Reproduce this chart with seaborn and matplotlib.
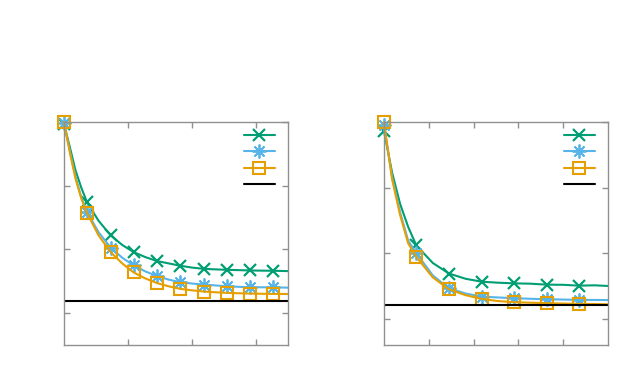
import numpy as np
import pandas as pd
import matplotlib
matplotlib.use("Agg")
import matplotlib.pyplot as plt
import seaborn as sns
from matplotlib.lines import Line2D

# left panel
x_left = [0, 9, 18, 27, 36, 54, 73, 91, 109, 127, 146, 164, 182, 200, 218, 236, 255, 273, 291, 309, 327, 350]
green_left = [2.97, 2.61, 2.24, 1.97, 1.74, 1.45, 1.22, 1.07, 0.957, 0.88, 0.816, 0.78, 0.743, 0.715,
              0.696, 0.687, 0.68, 0.675, 0.67, 0.667, 0.665, 0.66]
blue_left = [2.98, 2.55, 2.14, 1.82, 1.587, 1.27, 1.027, 0.87, 0.748, 0.655, 0.58, 0.525, 0.485, 0.465,
             0.449, 0.435, 0.422, 0.413, 0.406, 0.406, 0.405, 0.40]
orange_left = [3.0, 2.53, 2.11, 1.80, 1.572, 1.22, 0.957, 0.78, 0.638, 0.545, 0.47, 0.42, 0.381, 0.358,
               0.339, 0.328, 0.318, 0.312, 0.307, 0.304, 0.302, 0.30]
marks_left = [0, 4, 6, 8, 10, 12, 14, 16, 18, 20]
ref_left = 0.192

# right panel
x_right = [0, 18, 36, 54, 72, 109, 145, 182, 218, 254, 290, 326, 363, 399, 435, 470, 500]
green_right = [2.86, 2.23, 1.75, 1.40, 1.12, 0.85, 0.69, 0.61, 0.565, 0.55, 0.54, 0.535, 0.52, 0.518,
               0.505, 0.51, 0.50]
blue_right = [2.95, 2.16, 1.62, 1.19, 1.0, 0.66, 0.465, 0.385, 0.338, 0.325, 0.314, 0.305, 0.298, 0.293,
              0.288, 0.287, 0.285]
orange_right = [3.0, 2.13, 1.58, 1.15, 0.944, 0.63, 0.45, 0.36, 0.303, 0.27, 0.253, 0.245, 0.238, 0.232,
                0.227, 0.225, 0.22]
marks_right = [0, 4, 6, 8, 10, 12, 14]
ref_right = 0.207

GREEN, BLUE, ORANGE = '#009e73', '#56b4e9', '#e69f00'
STAR = (8, 2, 0)

sns.set_style('white')
plt.rcParams['font.family'] = ['DejaVu Sans']

fig = plt.figure(figsize=(6.34, 3.84), dpi=100)
ax1 = fig.add_axes([64 / 634, 39 / 384, 224 / 634, 223 / 384])
ax2 = fig.add_axes([384 / 634, 39 / 384, 224 / 634, 223 / 384])

STYLES = [
    dict(color=GREEN, marker='x', markersize=9, mew=1.6, mec=GREEN),
    dict(color=BLUE, marker=STAR, markersize=10, mew=1.3, mec=BLUE),
    dict(color=ORANGE, marker='s', markersize=9, mew=1.5, mec=ORANGE, mfc='none'),
]


def panel(ax, x, g, b, o, marks, ref, xmax, ylim, xticks):
    df = pd.DataFrame({'x': x, 'g': g, 'b': b, 'o': o})
    for col, st in zip(['g', 'b', 'o'], STYLES):
        ax.plot(df['x'], df[col], lw=1.5, markevery=marks, clip_on=False, **st)
    ax.axhline(ref, color='black', lw=1.5)
    ax.set_xlim(0, xmax)
    ax.set_ylim(*ylim)
    ax.set_xticks(xticks)
    ax.set_yticks([0, 1, 2, 3])
    ax.set_xticklabels([])
    ax.set_yticklabels([])
    ax.tick_params(direction='in', length=4, width=1, color='#909090',
                   top=True, right=True, bottom=True, left=True)
    for s in ax.spines.values():
        s.set_color('#909090')
        s.set_linewidth(1)
    handles = [Line2D([], [], lw=1.5, **st) for st in STYLES]
    handles.append(Line2D([], [], color='black', lw=1.5))
    ax.legend(handles, [''] * 4, loc='upper right', bbox_to_anchor=(0.94, 0.97), frameon=False,
              handlelength=2.2, handletextpad=0, borderpad=0, borderaxespad=0, labelspacing=0.18,
              fontsize=10)


panel(ax1, x_left, green_left, blue_left, orange_left, marks_left, ref_left, 350, (-0.5, 3.0),
      [100, 200, 300])
panel(ax2, x_right, green_right, blue_right, orange_right, marks_right, ref_right, 500, (-0.4, 3.0),
      [100, 200, 300, 400])

fig.savefig('out.png', dpi=100)
